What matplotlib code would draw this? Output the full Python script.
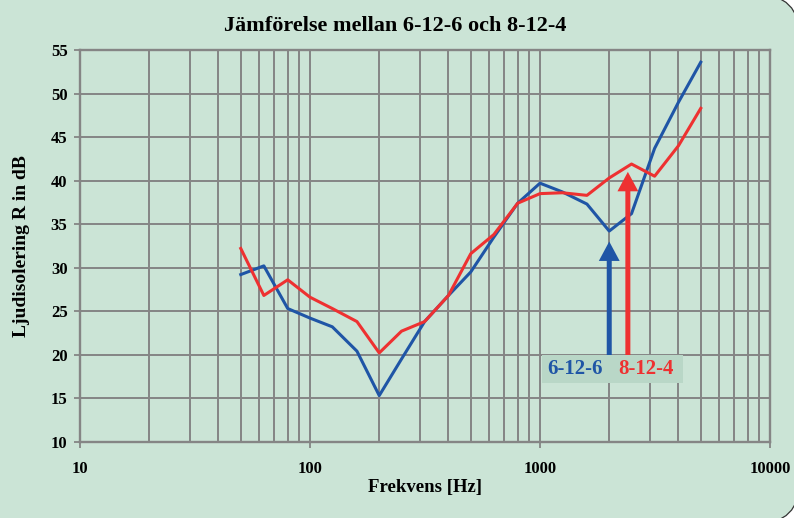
import matplotlib.pyplot as plt
from matplotlib.patches import FancyBboxPatch, Rectangle
from matplotlib.ticker import FixedLocator, LogLocator, NullFormatter

# third-octave band centre frequencies [Hz]
freqs = [50, 63, 80, 100, 125, 160, 200, 250, 315, 400, 500, 630, 800,
         1000, 1250, 1600, 2000, 2500, 3150, 4000, 5000]

# sound reduction index R [dB]
r_6_12_6 = [29.2, 30.2, 25.3, 24.2, 23.2, 20.4, 15.3, 19.5, 23.8, 26.8, 29.5,
            33.5, 37.4, 39.7, 38.7, 37.3, 34.2, 36.2, 43.7, 49.0, 53.6]
r_8_12_4 = [32.2, 26.8, 28.6, 26.6, 25.3, 23.8, 20.2, 22.7, 23.8, 26.8, 31.6,
            33.8, 37.4, 38.5, 38.6, 38.3, 40.3, 41.9, 40.5, 44.0, 48.3]

# arrows marking the comparison points: (freq, base, tip)
arrow_6_12_6 = (2000, 19.9, 33.0)
arrow_8_12_4 = (2410, 19.9, 41.0)

y_ticks = [10, 15, 20, 25, 30, 35, 40, 45, 50, 55]
x_ticks = [10, 100, 1000, 10000]
x_tick_labels = ["10", "100", "1000", "10000"]

BG = "#cbe4d6"
GRID = "#858585"
BLUE = "#1f55a6"
RED = "#ee3131"
SERIF = "Liberation Serif"

fig = plt.figure(figsize=(7.94, 5.18), dpi=100)
fig.patch.set_facecolor("white")

# rounded panel behind the chart (pixel coordinates)
panel = FancyBboxPatch((-60, -6), 860, 530,
                       boxstyle="round,pad=0,rounding_size=44",
                       transform=None, facecolor=BG, edgecolor="#333333",
                       linewidth=0.9, zorder=-10)
fig.patches.append(panel)

ax = fig.add_axes([80 / 794, 76.3 / 518, 690 / 794, 391.7 / 518])
ax.set_facecolor(BG)
ax.set_xscale("log")
ax.set_xlim(10, 10000)
ax.set_ylim(10, 55)

ax.xaxis.set_major_locator(FixedLocator(x_ticks))
ax.xaxis.set_minor_locator(LogLocator(base=10, subs=range(2, 10)))
ax.xaxis.set_minor_formatter(NullFormatter())
ax.set_xticks(x_ticks)
ax.set_xticklabels(x_tick_labels)
ax.set_yticks(y_ticks)

ax.grid(True, which="both", axis="x", color=GRID, linewidth=1.4)
ax.grid(True, which="major", axis="y", color=GRID, linewidth=1.4)
ax.set_axisbelow(True)
for side in ["left", "right", "top", "bottom"]:
    ax.spines[side].set_color(GRID)
    ax.spines[side].set_linewidth(1.7)

ax.tick_params(axis="both", which="major", color=GRID, width=1.3, length=4,
               labelsize=12, pad=5)
ax.tick_params(axis="x", which="major", pad=10)
ax.tick_params(axis="x", which="minor", length=0)
for lbl in ax.get_xticklabels() + ax.get_yticklabels():
    lbl.set_fontfamily(SERIF)
    lbl.set_fontweight("bold")

ax.plot(freqs, r_6_12_6, color=BLUE, linewidth=2.2, zorder=3)
ax.plot(freqs, r_8_12_4, color=RED, linewidth=2.2, zorder=3)

for (f, y0, y1), col in [(arrow_6_12_6, BLUE), (arrow_8_12_4, RED)]:
    ax.annotate("", xy=(f, y1), xytext=(f, y0),
                arrowprops=dict(facecolor=col, edgecolor="none", width=3.6,
                                headwidth=15, headlength=14, shrink=0),
                zorder=4)

# label box below the arrows
ax.add_patch(Rectangle((0.6696, 0.150), 0.2044, 0.0715, transform=ax.transAxes,
                       facecolor="#b9d7c7", edgecolor="none", zorder=4))
ax.text(0.7174, 0.186, "6-12-6", transform=ax.transAxes, color=BLUE,
        fontsize=15, fontweight="bold", family=SERIF, ha="center",
        va="center", zorder=5)
ax.text(0.8203, 0.186, "8-12-4", transform=ax.transAxes, color=RED,
        fontsize=15, fontweight="bold", family=SERIF, ha="center",
        va="center", zorder=5)

fig.text(395 / 794, 1 - 26 / 518, "Jämförelse mellan 6-12-6 och 8-12-4",
         fontsize=16, fontweight="bold", family=SERIF, ha="center",
         va="center")
ax.set_xlabel("Frekvens [Hz]", fontsize=13.5, fontweight="bold", family=SERIF,
              labelpad=1)
ax.set_ylabel("Ljudisolering R in dB", fontsize=14, fontweight="bold",
              family=SERIF, labelpad=15)

fig.savefig("out.png", dpi=100, facecolor=fig.get_facecolor())
